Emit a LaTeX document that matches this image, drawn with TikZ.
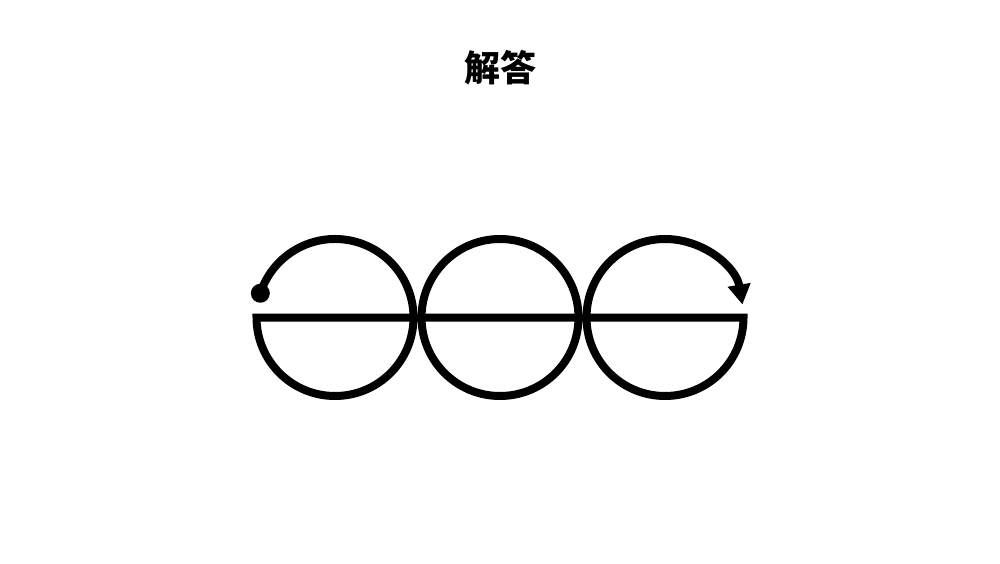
\documentclass[tikz,border=0pt]{standalone}
\usepackage{fontspec}
\newfontfamily\cjk{Noto Sans CJK SC}
\usepackage{tikz}
\usetikzlibrary{arrows.meta,calc}

\begin{document}
\begin{tikzpicture}[x=1pt, y=1pt, stroke/.style={line width=8pt, line join=miter, draw=black}]
\useasboundingbox (0,0) rectangle (1000,563);
\node (title) at (500,495) {\cjk\bfseries\fontsize{36pt}{36pt}\selectfont 解答};
\coordinate (ringA) at (335,245.5);
\coordinate (ringB) at (500,245.5);
\coordinate (ringC) at (665,245.5);
\coordinate (start) at ($(ringA)+(162:78.5)$);
% upper halves, from the dot to the arrow
\draw[stroke] (start) arc (162:0:78.5);
\draw[stroke] (ringB) circle (78.5);
\draw[stroke, -{Triangle[width=22pt,length=20pt]}] ($(ringC)+(-78.5,0)$) arc (180:9.5:78.5);
% lower halves and the bar
\draw[stroke] ($(ringA)+(78.5,0)$) arc (0:-180:78.5) -- ($(ringC)+(78.5,0)$) arc (0:-180:78.5);
\fill (start) circle (9.5);
\end{tikzpicture}
\end{document}
